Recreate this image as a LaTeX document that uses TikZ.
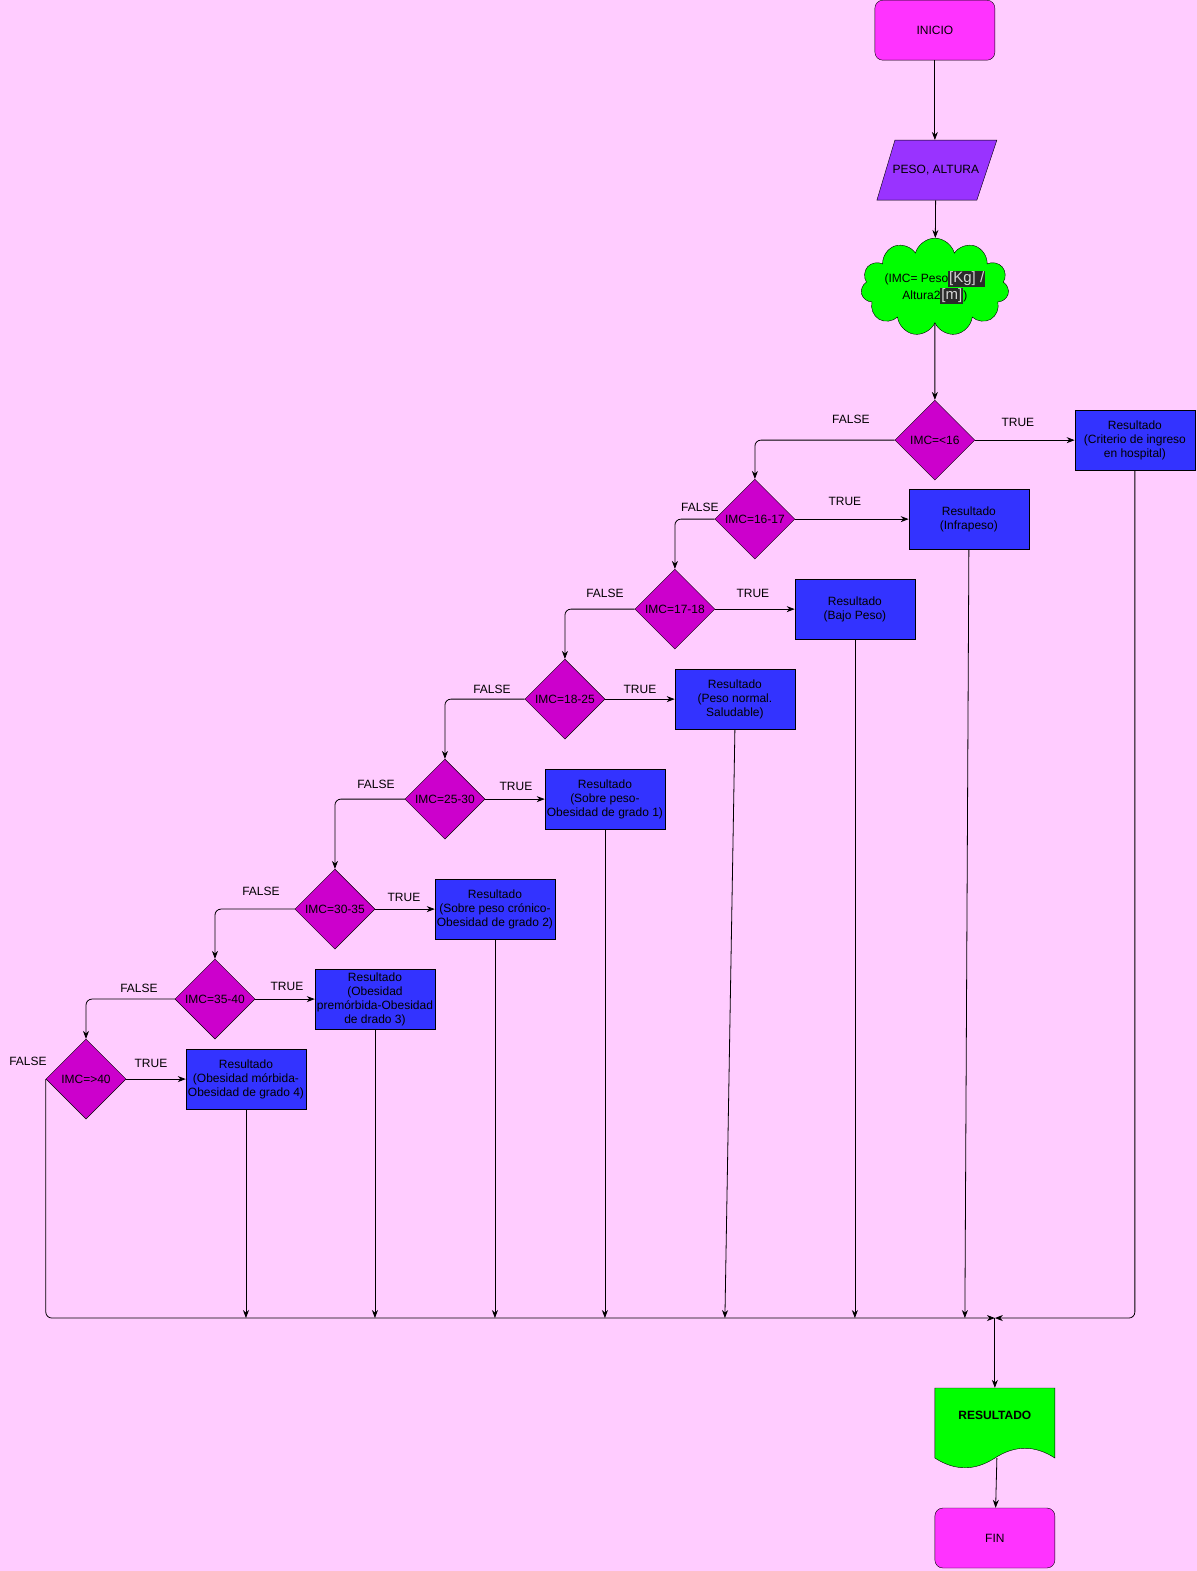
\documentclass[tikz,border=0pt]{standalone}
\usepackage{fontspec}
\setmainfont{Liberation Sans}
\usetikzlibrary{shapes.geometric, shapes.symbols, arrows.meta, calc}
\usepackage{xcolor}
\definecolor{bgpink}{HTML}{FFCCFF}
\definecolor{termpink}{HTML}{FF33FF}
\definecolor{iopurple}{HTML}{9933FF}
\definecolor{cloudgreen}{HTML}{00FF00}
\definecolor{decmag}{HTML}{CC00CC}
\definecolor{resblue}{HTML}{3333FF}
\definecolor{hlbg}{HTML}{2B2B2B}
\definecolor{hlfg}{HTML}{D4D4D4}
% texto resaltado dentro de la nube
\newcommand{\hlt}[1]{{\setlength{\fboxsep}{1pt}\colorbox{hlbg}{\fontsize{15}{15}\selectfont\color{hlfg}#1}}}
% texto de ancho cero (no agranda el rombo)
\newcommand{\zw}[1]{\makebox[0pt]{#1}}

\begin{document}
\begin{tikzpicture}[x=1pt, y=-1pt]
        % ================= estilos =================
        \tikzset{
            base/.style={draw=black, font=\fontsize{12}{14}\selectfont, inner sep=1pt},
            term/.style={base, rounded corners=8pt, fill=termpink, minimum width=120pt, minimum height=60pt},
            io/.style={font=\fontsize{12}{14}\selectfont, inner sep=1pt, minimum width=120pt, minimum height=60pt},
            imcnube/.style={base, cloud, cloud puffs=11, aspect=1.5, fill=cloudgreen, minimum width=148pt, minimum height=98pt},
            decision/.style={base, diamond, aspect=1, inner sep=0pt, fill=decmag, minimum width=80pt, minimum height=80pt},
            resbox/.style={base, fill=resblue, minimum width=120pt, minimum height=60pt, align=center},
            lbl/.style={font=\fontsize{12}{14}\selectfont},
            arr/.style={-{Stealth[length=8pt,width=6pt]}, black, line width=0.8pt}
        }

        % fondo
        \fill[bgpink] (0,0) rectangle (1197,1571);

        % ================= inicio y datos =================
        \node[term] (ini) at (935,30) {INICIO};
        % paralelogramo de entrada
        \draw[base, fill=iopurple] (895,140) -- (997,140) -- (977,200) -- (877,200) -- cycle;
        \node[io] (peso) at (936,170) {PESO, ALTURA};
        \node[imcnube] (imc) at (935,287) {\zw{\begin{tabular}{@{}c@{}}(IMC= Peso\hlt{[Kg] /}\\[1pt]Altura2\hlt{[m]})\end{tabular}}};

        % ================= decisiones =================
        \node[decision] (d1) at (935,440) {\zw{IMC=<16}};
        \node[decision] (d2) at (755,519) {\zw{IMC=16-17}};
        \node[decision] (d3) at (675,609) {\zw{IMC=17-18}};
        \node[decision] (d4) at (565,699) {\zw{IMC=18-25}};
        \node[decision] (d5) at (445,799) {\zw{IMC=25-30}};
        \node[decision] (d6) at (335,909) {\zw{IMC=30-35}};
        \node[decision] (d7) at (215,999) {\zw{IMC=35-40}};
        \node[decision] (d8) at (86,1079) {\zw{IMC=>40}};

        % ================= resultados =================
        \node[resbox] (b1) at (1135,440) {Resultado\\(Criterio de ingreso\\en hospital)};
        \node[resbox] (b2) at (969,519) {Resultado\\(Infrapeso)};
        \node[resbox] (b3) at (855,609) {Resultado\\(Bajo Peso)};
        \node[resbox] (b4) at (735,699) {Resultado\\(Peso normal.\\Saludable)};
        \node[resbox] (b5) at (605,799) {Resultado\\(Sobre peso-\\Obesidad de grado 1)};
        \node[resbox] (b6) at (495,909) {Resultado\\(Sobre peso cr\'onico-\\Obesidad de grado 2)};
        \node[resbox] (b7) at (375,999) {Resultado\\(Obesidad\\prem\'orbida-Obesidad\\de drado 3)};
        \node[resbox] (b8) at (246,1079) {Resultado\\(Obesidad m\'orbida-\\Obesidad de grado 4)};

        % etiquetas TRUE / FALSE
        \foreach \i/\tx/\ty/\fx/\fy in {1/1018/422/851/419, 2/845/501/700/507, 3/753/593/605/593,
                4/640/689/492/689, 5/516/786/376/784, 6/404/897/261/891,
                7/287/986/139/988, 8/151/1063/28/1061} {
            \node[lbl] (t\i) at (\tx,\ty) {TRUE};
            \node[lbl] (f\i) at (\fx,\fy) {FALSE};
        }

        % ================= salida =================
        \draw[base, fill=cloudgreen] (935,1388) -- (1055,1388) -- (1055,1458)
            .. controls (1035,1445) and (1015,1445) .. (995,1458)
            .. controls (975,1471) and (955,1471) .. (935,1458) -- cycle;
        \node[font=\fontsize{12}{14}\selectfont\bfseries, minimum width=120pt, minimum height=54pt] (res) at (995,1415) {RESULTADO};
        \node[term] (fin) at (995,1538) {FIN};

        \coordinate (join) at (995,1318);
        \coordinate (e2) at (965,1318);
        \coordinate (e4) at (725,1318);

        % ================= conexiones =================
        \draw[arr] (ini) -- (ini |- peso.north);
        \draw[arr] (peso) -- (imc);
        \draw[arr] (imc) -- (d1);

        \foreach \i/\j in {1/2, 2/3, 3/4, 4/5, 5/6, 6/7, 7/8} {
            \draw[arr, rounded corners=6pt] (d\i.west) -| (d\j.north);
        }
        \foreach \i in {1,...,8} {
            \draw[arr] (d\i.east) -- (b\i.west);
        }

        \draw[arr, rounded corners=6pt] (d8.west) |- (join);
        \draw[arr, rounded corners=6pt] (b1.south) |- (join);
        \foreach \i in {3, 5, 6, 7, 8} {
            \draw[arr] (b\i.south) -- (b\i.south |- join);
        }
        \draw[arr] (b2.south) -- (e2);
        \draw[arr] (b4.south) -- (e4);

        \draw[arr] (join) -- (res.north);
        \draw[arr] ($(res.south)+(2,16)$) -- (fin);

    \end{tikzpicture}
\end{document}
